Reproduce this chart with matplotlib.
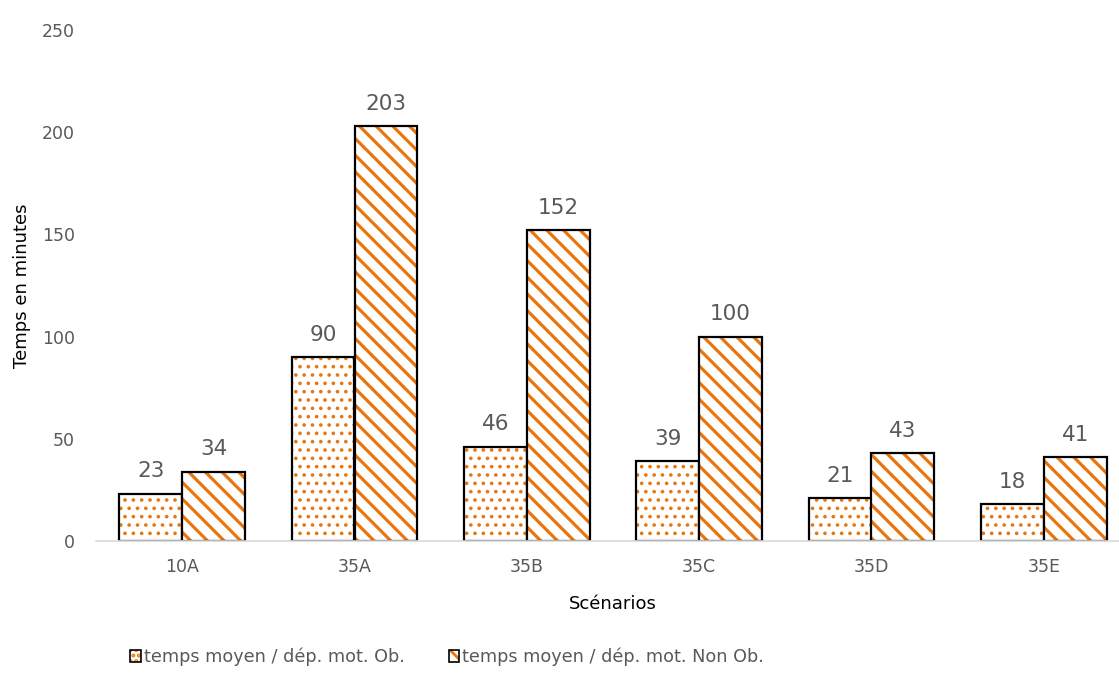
import matplotlib
matplotlib.use("Agg")
import matplotlib.pyplot as plt
import numpy as np
from matplotlib.patches import Patch
from matplotlib.legend_handler import HandlerTuple

categories = ["10A", "35A", "35B", "35C", "35D", "35E"]
obs = [23, 90, 46, 39, 21, 18]
non_obs = [34, 203, 152, 100, 43, 41]
labels = ["temps moyen / dép. mot. Ob.", "temps moyen / dép. mot. Non Ob."]
yticks = [0, 50, 100, 150, 200, 250]

ORANGE = "#E8760F"
TXT = "#595959"
plt.rcParams['font.family'] = ['DejaVu Sans']

W, H = 1119, 677
fig = plt.figure(figsize=(W / 100, H / 100), dpi=100)
left, right = 96, 1130
bottom, top = 541, 30
ax = fig.add_axes([left / W, 1 - bottom / H, (right - left) / W, (bottom - top) / H])

x = np.arange(len(categories))
bw = 0.365

plt.rcParams['hatch.linewidth'] = 1.4
b1 = ax.bar(x - bw / 2, obs, bw, color="white", edgecolor=ORANGE, hatch="..", linewidth=0)
o1 = ax.bar(x - bw / 2, obs, bw, fill=False, edgecolor="black", linewidth=1.6)
plt.rcParams['hatch.linewidth'] = 2.3
b2 = ax.bar(x + bw / 2, non_obs, bw, color="white", edgecolor=ORANGE, hatch="\\\\", linewidth=0)
o2 = ax.bar(x + bw / 2, non_obs, bw, fill=False, edgecolor="black", linewidth=1.6)

for xs, vals in ((x - bw / 2, obs), (x + bw / 2, non_obs)):
    for xi, v in zip(xs, vals):
        ax.annotate(str(v), (xi, v), xytext=(0, 9), textcoords="offset points",
                    ha="center", va="bottom", fontsize=15.5, color=TXT)

ax.set_xlim(-0.5, len(categories) - 0.5)
ax.set_ylim(0, 250)
ax.set_yticks(yticks)
ax.set_xticks(x)
ax.set_xticklabels(categories)
ax.tick_params(axis="y", length=0, labelsize=12.5, colors=TXT, pad=15)
ax.tick_params(axis="x", length=0, labelsize=12.5, colors=TXT, pad=12)
for s in ["top", "right", "left"]:
    ax.spines[s].set_visible(False)
ax.spines["bottom"].set_color("#D9D9D9")
ax.spines["bottom"].set_linewidth(1.2)
ax.set_xlabel("Scénarios", fontsize=13, color="black", labelpad=14)
ax.set_ylabel("Temps en minutes", fontsize=13, color="black", labelpad=8)

plt.rcParams['hatch.linewidth'] = 1.0
lh1 = (Patch(facecolor="white", edgecolor=ORANGE, hatch="...", linewidth=0),
       Patch(fill=False, edgecolor="black", linewidth=1.2))
plt.rcParams['hatch.linewidth'] = 2.0
lh2 = (Patch(facecolor="white", edgecolor=ORANGE, hatch="\\\\", linewidth=0),
       Patch(fill=False, edgecolor="black", linewidth=1.2))
leg = fig.legend([lh1, lh2], labels, loc="center", bbox_to_anchor=(447 / W, 1 - 657 / H),
                 ncol=2, frameon=False, fontsize=12.7, handlelength=0.6, handleheight=0.6,
                 handletextpad=0.15, columnspacing=2.5, labelcolor=TXT,
                 handler_map={tuple: HandlerTuple(ndivide=1, pad=0)})

fig.savefig("out.png", dpi=100)
